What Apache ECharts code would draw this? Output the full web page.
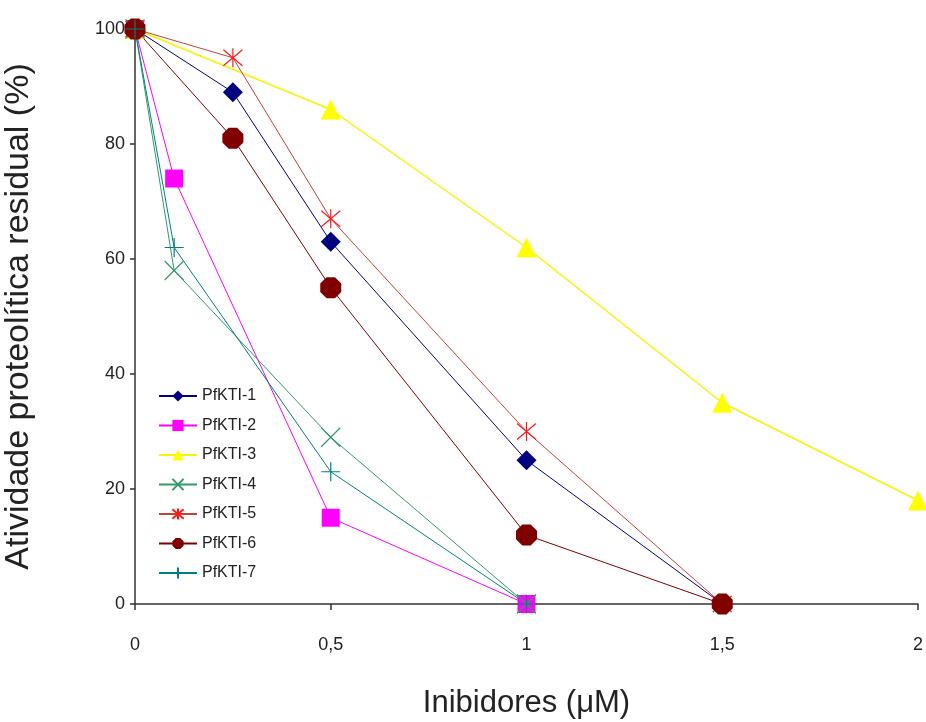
<!DOCTYPE html>
<html>
<head>
<meta charset="utf-8">
<script src="https://cdn.jsdelivr.net/npm/echarts@6/dist/echarts.min.js"></script>
<style>
  html, body { margin: 0; padding: 0; background: #ffffff; }
  #chart { width: 926px; height: 722px; }
</style>
</head>
<body>
<div id="chart"></div>
<script>
// Inhibitor concentration (µM) and residual proteolytic activity (%) per inhibitor
const seriesNames = ['PfKTI-1', 'PfKTI-2', 'PfKTI-3', 'PfKTI-4', 'PfKTI-5', 'PfKTI-6', 'PfKTI-7'];

const dose1 = [0, 0.25, 0.5, 1, 1.5];
const act1  = [100, 89, 63, 25, 0];

const dose2 = [0, 0.1, 0.5, 1];
const act2  = [100, 74, 15, 0];

const dose3 = [0, 0.5, 1, 1.5, 2];
const act3  = [100, 86, 62, 35, 18];

const dose4 = [0, 0.1, 0.5, 1];
const act4  = [100, 58, 29, 0];

const dose5 = [0, 0.25, 0.5, 1, 1.5];
const act5  = [100, 95, 67, 30, 0];

const dose6 = [0, 0.25, 0.5, 1, 1.5];
const act6  = [100, 81, 55, 12, 0];

const dose7 = [0, 0.1, 0.5, 1];
const act7  = [100, 62, 23, 0];

const xTickLabels = ['0', '0,5', '1', '1,5', '2'];
const yTickLabels = ['0', '20', '40', '60', '80', '100'];

const doses = [dose1, dose2, dose3, dose4, dose5, dose6, dose7];
const acts  = [act1, act2, act3, act4, act5, act6, act7];

// Marker shapes
const SYM_X = 'path://M0,0L10,10M10,0L0,10';
const SYM_STAR = 'path://M0,0L10,10M10,0L0,10M5,-1L5,11';
const SYM_PLUS = 'path://M0,5L10,5M5,0L5,10';
const SYM_OCT = 'path://M3,0L7,0L10,3L10,7L7,10L3,10L0,7L0,3Z';

const FONT = 'Liberation Sans, Arial, sans-serif';

const styles = [
  { line: '#000080', lw: 1, symbol: 'diamond', size: 20, fill: '#000080', border: '#000080', bw: 0 },
  { line: '#ff00ff', lw: 1, symbol: 'rect', size: 18, fill: '#ff00ff', border: '#ff00ff', bw: 0 },
  { line: '#f5f500', lw: 1.5, symbol: 'triangle', size: 20, fill: '#ffff00', border: '#ffff00', bw: 0 },
  { line: '#339966', lw: 1, symbol: SYM_X, size: 19, fill: 'rgba(0,0,0,0)', border: '#339966', bw: 1.2 },
  { line: '#c8403a', lw: 1, symbol: SYM_STAR, size: 19, fill: 'rgba(0,0,0,0)', border: '#ff1a1a', bw: 1.2 },
  { line: '#800000', lw: 1, symbol: SYM_OCT, size: 21, fill: '#800000', border: '#800000', bw: 0 },
  { line: '#008080', lw: 1, symbol: SYM_PLUS, size: 19, fill: 'rgba(0,0,0,0)', border: '#008080', bw: 1.2 }
];

const series = seriesNames.map((name, i) => ({
  name: name,
  type: 'line',
  data: doses[i].map((d, k) => [d, acts[i][k]]),
  symbol: styles[i].symbol,
  symbolSize: styles[i].size,
  showAllSymbol: true,
  lineStyle: { color: styles[i].line, width: styles[i].lw },
  itemStyle: { color: styles[i].fill, borderColor: styles[i].border, borderWidth: styles[i].bw },
  emphasis: { disabled: true },
  animation: false
}));

const chart = echarts.init(document.getElementById('chart'), null, { renderer: 'canvas' });
chart.setOption({
  backgroundColor: '#ffffff',
  animation: false,
  grid: { left: 135, right: 8, top: 29, bottom: 118, containLabel: false, outerBoundsMode: 'none' },
  legend: {
    orient: 'vertical',
    left: 153,
    top: 383,
    padding: 5,
    itemWidth: 38,
    itemHeight: 14,
    itemGap: 13.5,
    data: seriesNames,
    textStyle: { fontFamily: FONT, fontSize: 16, color: '#222', lineHeight: 14 },
    selectedMode: false
  },
  xAxis: {
    type: 'value',
    min: 0,
    max: 2,
    interval: 0.5,
    name: 'Inibidores (μM)',
    nameLocation: 'middle',
    nameGap: 84,
    nameTextStyle: { fontFamily: FONT, fontSize: 31, color: '#222' },
    axisLine: { lineStyle: { color: '#333', width: 1.5 } },
    axisTick: { show: true, inside: false, length: 6, lineStyle: { color: '#333', width: 1.5 } },
    axisLabel: {
      margin: 32,
      fontFamily: FONT,
      fontSize: 18,
      color: '#222',
      formatter: (v) => xTickLabels[Math.round(v / 0.5)]
    },
    splitLine: { show: false }
  },
  yAxis: {
    type: 'value',
    min: 0,
    max: 100,
    interval: 20,
    name: 'Atividade proteolítica residual (%)',
    nameLocation: 'middle',
    nameGap: 99,
    nameTextStyle: { fontFamily: FONT, fontSize: 34, color: '#222' },
    axisLine: { show: true, lineStyle: { color: '#333', width: 1.5 } },
    axisTick: { show: true, inside: false, length: 5, lineStyle: { color: '#333', width: 1.5 } },
    axisLabel: {
      margin: 10,
      fontFamily: FONT,
      fontSize: 18,
      color: '#222',
      formatter: (v) => yTickLabels[Math.round(v / 20)]
    },
    splitLine: { show: false }
  },
  series: series
});
</script>
</body>
</html>
